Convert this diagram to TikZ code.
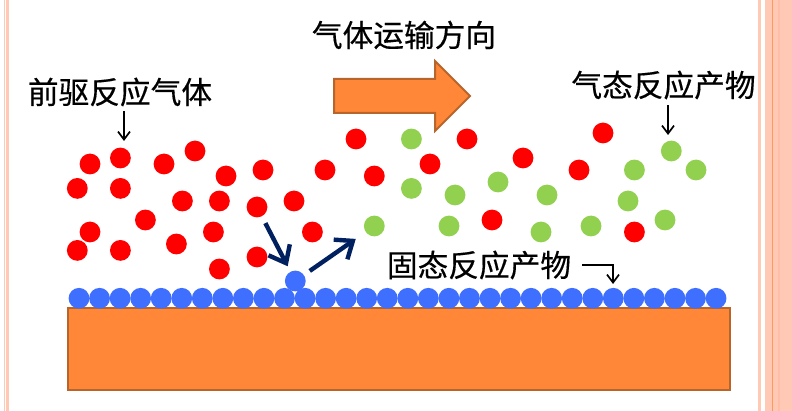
\documentclass[tikz,border=0pt]{standalone}
\usepackage{fontspec}
\newfontfamily\cjk[FakeBold=0.4]{Noto Sans CJK SC}
\usetikzlibrary{arrows.meta}
\definecolor{stripe}{HTML}{FFC9B5}
\definecolor{stripedk}{HTML}{FFBFA6}
\definecolor{stripeor}{HTML}{FF9A5C}
\definecolor{sub}{HTML}{FF8737}
\definecolor{subedge}{HTML}{B7652B}
\definecolor{ballred}{HTML}{FF0000}
\definecolor{ballgreen}{HTML}{92D050}
\definecolor{ballblue}{HTML}{3F6FFF}
\definecolor{navy}{HTML}{002060}
\tikzset{
  ball/.style={circle,inner sep=0pt,minimum size=20.8pt,fill=#1},
  lab/.style={inner sep=0pt,font=\cjk\fontsize{30.7}{32}\selectfont,text=black},
  thinarrow/.style={draw=black,line width=1.7pt,-{Straight Barb[length=8pt,width=12pt]}},
  navyarrow/.style={draw=navy,line width=4.4pt,-{Straight Barb[length=15pt,width=24pt]}},
  blockshape/.style={fill=sub,draw=subedge,line width=2pt},
  band/.style={fill=#1,draw=none}
}
\begin{document}
\begin{tikzpicture}[x=1pt,y=-1pt]
\useasboundingbox (0,0) rectangle (792,411);
\fill[white] (0,0) rectangle (792,411);
% page stripes
\fill[band=stripe] (4,0) rectangle (5.2,411);
\fill[band=stripe] (6,0) rectangle (9,411);
\fill[band=stripe] (757.5,0) rectangle (761,411);
\fill[band=stripe] (765,0) rectangle (792,411);
\fill[band=stripedk] (778,0) rectangle (780,411);
\fill[band=stripeor] (771.7,0) rectangle (773,411);
% substrate
\node[blockshape,draw,inner sep=0pt,minimum width=662pt,minimum height=81pt,rectangle] (substrate) at (399,349) {};
% transport arrow
\draw[blockshape,line join=miter] (334,79) -- (435,79) -- (435,61) -- (470,96) -- (435,131) -- (435,113) -- (334,113) -- cycle;
% red balls
\foreach \n/\x/\y in {a/90/164,b/120.4/158,c/77.3/188.4,d/120.4/188.4,e/164/164,f/195/151,g/226/176,h/263/170,i/325/170,j/356/139,k/374.3/176,l/182.4/201,m/219.4/201,n/257/207,o/294/201,p/90/232,q/77.3/250.4,r/120.4/250.4,s/145.4/220,t/176.4/244,u/213.4/232,v/257/257,w/219.4/269,x/312.4/232,y/430/164,z/467/139,aa/523/158,ab/579/170,ac/603/133,ad/492/220,ae/634.4/232}
  \node[ball=ballred] (red\n) at (\x,\y) {};
% green balls
\foreach \n/\x/\y in {a/374.3/226,b/411.4/139,c/411.4/188.4,d/455/195,e/498/182,f/547/195,g/634.4/170,h/671.3/151,i/696/170,j/628/201,k/449/226,l/541/232,m/591/226,n/665/220}
  \node[ball=ballgreen] (green\n) at (\x,\y) {};
% blue film
\foreach \i in {0,...,31}
  \node[ball=ballblue] (film\i) at ({79+\i*20.55},298.3) {};
\node[ball=ballblue] (adatom) at (295.3,281) {};
% labels
\node[lab] (flow) at (404,35) {气体运输方向};
\node[lab] (precursor) at (120,92) {前驱反应气体};
\node[lab] (gasprod) at (663.5,85) {气态反应产物};
\node[lab] (solidprod) at (479,265) {固态反应产物};
% thin arrows
\coordinate (p1) at (124,111);
\coordinate (p2) at (124,141);
\coordinate (g1) at (668,105);
\coordinate (g2) at (668,135);
\coordinate (s1) at (582,265);
\coordinate (s2) at (613,265);
\coordinate (s3) at (613,284);
\draw[thinarrow] (p1) -- (p2);
\draw[thinarrow] (g1) -- (g2);
\draw[thinarrow] (s1) -- (s2) -- (s3);
% reaction arrows
\draw[navyarrow,shorten <=7.6pt,shorten >=6pt] (redn) -- (adatom);
\draw[navyarrow,shorten <=7pt,shorten >=12pt] (adatom) -- (greena);
\end{tikzpicture}
\end{document}
